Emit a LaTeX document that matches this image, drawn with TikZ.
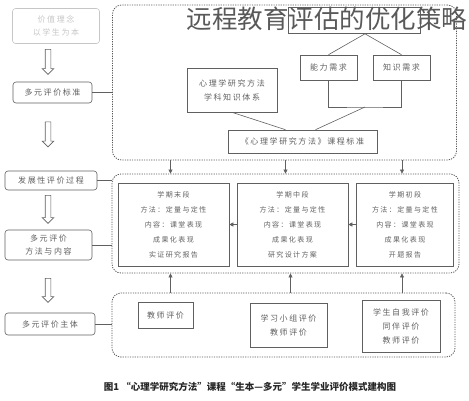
\documentclass[tikz,border=0pt]{standalone}
\usepackage{fontspec}
\newfontfamily\cjk[LetterSpace=20]{Noto Sans CJK SC}
\newfontfamily\cjktitle{Noto Sans CJK SC}
\usetikzlibrary{shapes.arrows,arrows.meta}
\begin{document}
\begin{tikzpicture}[x=1pt,y=-1pt,
  line/.style={draw=gray!75!black, line width=0.6pt},
  sidebox/.style={line, rounded corners=3pt, inner sep=0pt, align=center,
    font=\cjk\fontsize{8}{13}\selectfont, text=gray!75!black},
  plainbox/.style={line, inner sep=0pt, align=center,
    font=\cjk\fontsize{8}{14}\selectfont, text=gray!75!black},
  stagebox/.style={plainbox, font=\cjk\fontsize{7}{15}\selectfont},
  zone/.style={draw=gray!70!black, dash pattern=on 1.2pt off 1.2pt,
    line width=0.8pt, rounded corners=9pt, inner sep=0pt},
  hollow/.style={single arrow, shape border rotate=270, draw=gray!75!black,
    fill=white, line width=0.6pt, inner xsep=2.5pt, inner ysep=0pt,
    single arrow head extend=3pt, single arrow head indent=0pt},
  tip/.style={line, -{Triangle[length=4pt,width=4pt]}}
]
\useasboundingbox (0,0) rectangle (469,400);

\node[zone, minimum width=344pt, minimum height=155pt] (topzone) at (284.5,82.5) {};
\node[zone, minimum width=347pt, minimum height=99pt] (midzone) at (285.5,223.5) {};
\node[zone, minimum width=343pt, minimum height=64pt] (botzone) at (283.5,325) {};

\node[sidebox, draw=gray!45, text=gray!45, minimum width=87pt, minimum height=35pt] (value) at (56,26) {价值理念\\以学生为本};
\node[sidebox, minimum width=79pt, minimum height=21pt] (criteria) at (52.5,92.5) {多元评价标准};
\node[sidebox, minimum width=92pt, minimum height=19pt] (process) at (51,180.5) {发展性评价过程};
\node[sidebox, minimum width=87pt, minimum height=30pt] (method) at (48.5,245) {多元评价\\方法与内容};
\node[sidebox, minimum width=90pt, minimum height=22pt] (subject) at (50,324) {多元评价主体};

\node[hollow, minimum height=25pt] (down1) at (48,60.5) {};
\node[hollow, minimum height=25pt] (down2) at (48,133) {};
\node[hollow, minimum height=28pt] (down3) at (48,208) {};
\node[hollow, minimum height=24pt] (down4) at (48,289) {};

\draw[line] (criteria.east) -- (criteria.east -| topzone.west);
\draw[line] (process.east) -- (process.east -| midzone.west);
\draw[line] (method.east) -- (method.east -| midzone.west);
\draw[line] (subject.east) -- (subject.east -| botzone.west);

\node[plainbox, minimum width=132pt, minimum height=26pt] (society) at (354,20.5) {};
\node[plainbox, minimum width=57pt, minimum height=25pt] (ability) at (328.5,67.5) {能力需求};
\node[plainbox, minimum width=57pt, minimum height=25pt] (knowledge) at (401.5,67.5) {知识需求};
\node[plainbox, minimum width=90pt, minimum height=44pt] (system) at (232,90) {心理学研究方法\\学科知识体系};
\node[plainbox, minimum width=149pt, minimum height=23pt] (standard) at (302.5,141.5) {《心理学研究方法》课程标准};
\coordinate (join) at (365,107);

\draw[line] ([xshift=11pt]society.south) -- (ability.north);
\draw[line] ([xshift=11pt]society.south) -- (knowledge.north);
\draw[line] (ability.south) |- (join) -| (knowledge.south);
\draw[line] (system.south) -- ([xshift=-17pt]standard.north);
\draw[line] (join) -- ([xshift=13pt]standard.north);

\node[stagebox, minimum width=111pt, minimum height=83pt] (late) at (173.5,224.5) {学期末段\\方法：定量与定性\\内容：课堂表现\\成果化表现\\实证研究报告};
\node[stagebox, minimum width=111pt, minimum height=83pt] (mid) at (292.5,224.5) {学期中段\\方法：定量与定性\\内容：课堂表现\\成果化表现\\研究设计方案};
\node[stagebox, minimum width=97pt, minimum height=83pt] (early) at (405,224.5) {学期初段\\方法：定量与定性\\内容：课堂表现\\成果化表现\\开题报告};

\draw[tip] (early.west) -- (mid.east);
\draw[tip] (mid.west) -- (late.east);

\draw[tip] ([xshift=-3pt]late.north |- topzone.south) -- ([xshift=-3pt]late.north |- midzone.north);
\draw[tip] ([xshift=-7pt]mid.north |- topzone.south) -- ([xshift=-7pt]mid.north |- midzone.north);
\draw[tip] ([xshift=-3pt]early.north |- topzone.south) -- ([xshift=-3pt]early.north |- midzone.north);
\draw[tip] ([xshift=-3pt]late.south |- botzone.north) -- ([xshift=-3pt]late.south |- midzone.south);
\draw[tip] ([xshift=-2pt]mid.south |- botzone.north) -- ([xshift=-2pt]mid.south |- midzone.south);
\draw[tip] ([xshift=-3pt]early.south |- botzone.north) -- ([xshift=-3pt]early.south |- midzone.south);

\node[plainbox, minimum width=55pt, minimum height=26pt] (teacher) at (165.5,315) {教师评价};
\node[plainbox, minimum width=77pt, minimum height=44pt] (group) at (288.5,325) {学习小组评价\\教师评价};
\node[plainbox, minimum width=78pt, minimum height=52pt] (self) at (401,326) {学生自我评价\\同伴评价\\教师评价};

\node[font=\cjktitle\fontsize{25.5}{26}\selectfont, text=gray!70!black, inner sep=0pt] (title) at (327,19) {远程教育评估的优化策略};
\node[font=\cjktitle\bfseries\fontsize{9.5}{11}\selectfont, text=black!85, inner sep=0pt] (caption) at (250,387) {图1\ “心理学研究方法”课程“生本—多元”学生学业评价模式建构图};
\end{tikzpicture}
\end{document}
